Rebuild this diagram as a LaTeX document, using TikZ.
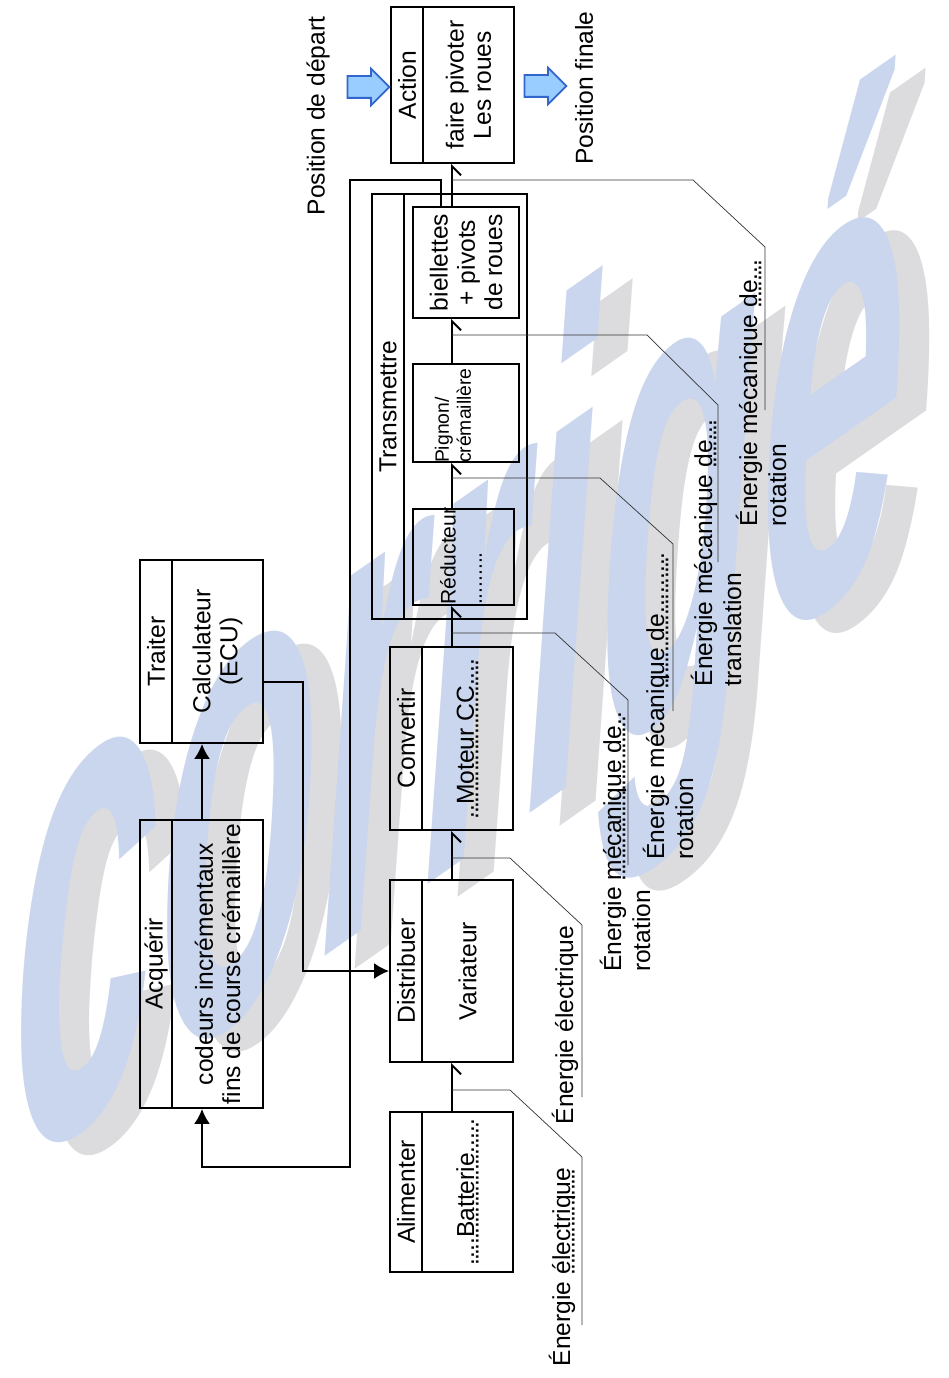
\documentclass[tikz,border=0pt]{standalone}
\usepackage{fontspec}
\setmainfont{Liberation Sans}
\usetikzlibrary{arrows.meta, shapes.arrows}

\definecolor{wmblue}{RGB}{201,214,237}
\definecolor{wmgray}{RGB}{220,220,222}
\definecolor{arrowblue}{RGB}{153,204,255}
\definecolor{arrowline}{RGB}{51,102,204}

% answer written on a dotted line
\newcommand{\fillin}[1]{\setbox0\hbox{#1}\rlap{\raisebox{-2.5pt}{\hbox to \wd0{\leaders\hbox to 3pt{\hss.\hss}\hfill}}}\box0}

\begin{document}
\begin{tikzpicture}[
    x=0.02cm, y=-0.02cm,
    font=\fontsize{14}{15.5}\selectfont,
    fnhead/.style={draw, line width=1.1pt, rotate=90, inner sep=0pt, minimum height=0.64cm},
    fnbody/.style={draw, line width=1.1pt, rotate=90, inner sep=0pt, minimum height=1.82cm, align=center},
    part/.style={draw, line width=1.1pt, rotate=90, inner sep=0pt, align=center},
    inlabel/.style={rotate=90, inner sep=1pt, align=left, font=\fontsize{11}{12.5}\selectfont},
    energy/.style={line width=1.1pt, -{Straight Barb[harpoon, swap, length=1.8mm, width=3.6mm]}},
    info/.style={line width=1.1pt, -{Latex[length=3mm, width=3.2mm]}},
    leader/.style={line width=0.4pt, black!80},
    note/.style={rotate=90, align=left, inner sep=0pt, font=\fontsize{14}{16.5}\selectfont},
    watermark/.style={font=\fontsize{150}{150}\selectfont\bfseries\itshape, yslant=0.7, xscale=1.0, yscale=2.6, inner sep=0pt},
    bigarrow/.style={single arrow, draw=arrowline, fill=arrowblue, line width=1pt, minimum height=0.84cm,
        inner ysep=0.2cm, inner xsep=0pt, single arrow head extend=0.15cm}
]
    \useasboundingbox (0,0) rectangle (948,1378);

    % watermark
    \node[watermark, text=wmgray] (shade) at (490,695) {corrigé};
    \node[watermark, text=wmblue] (mark) at (460,682) {corrigé};

    % chain of functions
    \node[fnhead, minimum width=3.12cm] (acthead) at (407,85) {Action};
    \node[fnbody, minimum width=3.12cm] (actbody) at (468.5,85) {faire pivoter\\Les roues};
    \node[fnhead, minimum width=8.5cm] (trahead) at (388,406.5) {Transmettre};
    \node[fnbody, minimum width=8.5cm, minimum height=2.46cm] (trabody) at (465.5,406.5) {};
    \node[part, minimum width=2.22cm, minimum height=2.12cm] (biel) at (466,262.5) {biellettes\\+ pivots\\de roues};
    \node[part, minimum width=1.96cm, minimum height=2.12cm] (pign) at (466,413) {};
    \node[part, minimum width=1.92cm, minimum height=2.02cm] (redu) at (463.5,557) {};
    \node[inlabel, anchor=west] (pigntext) at (453,465) {Pignon/\\crémaillère};
    \node[inlabel, anchor=west, font=\fontsize{12}{15}\selectfont] (redutext) at (461,607) {Réducteur\\.........};
    \node[fnhead, minimum width=3.66cm] (convhead) at (406,738.5) {Convertir};
    \node[fnbody, minimum width=3.66cm] (convbody) at (467.5,738.5) {\fillin{..Moteur CC....}};
    \node[fnhead, minimum width=3.64cm] (disthead) at (406,971) {Distribuer};
    \node[fnbody, minimum width=3.64cm] (distbody) at (467.5,971) {Variateur};
    \node[fnhead, minimum width=3.2cm] (alimhead) at (406,1192) {Alimenter};
    \node[fnbody, minimum width=3.2cm] (alimbody) at (467.5,1192) {\fillin{....Batterie.....}};
    \node[fnhead, minimum width=3.66cm] (traihead) at (156,651.5) {Traiter};
    \node[fnbody, minimum width=3.66cm] (traibody) at (217.5,651.5) {Calculateur\\(ECU)};
    \node[fnhead, minimum width=5.76cm] (acqhead) at (156,964) {Acquérir};
    \node[fnbody, minimum width=5.76cm] (acqbody) at (217.5,964) {codeurs incrémentaux\\fins de course crémaillère};

    % start and end positions
    \node[bigarrow] (startarrow) at (363,87) {};
    \node[bigarrow] (endarrow) at (540,86) {};
    \node[note] (startpos) at (318,116) {Position de départ};
    \node[note] (endpos) at (584,88) {Position finale};

    % energy labels
    \node[note] (ea) at (562,1267) {Énergie \fillin{électrique}};
    \node[note] (eb) at (565,1025) {Énergie électrique};
    \node[note] (ec) at (625,842) {Énergie \fillin{mécanique de..}\\rotation};
    \node[note] (ed) at (668,706) {Énergie mécani\fillin{que de.........}\\rotation};
    \node[note] (ee) at (716,553) {Énergie mécanique \fillin{de...}\\translation};
    \node[note] (ef) at (761,393) {Énergie mécanique \fillin{de...}\\rotation};

    \coordinate (chain) at (452,0);
    \coordinate (fbx) at (441,0);
    \coordinate (fbtop) at (350,180);
    \coordinate (fbbot) at (350,1167);
    \coordinate (sense) at (202,0);
    \coordinate (cmdx) at (303,682);

    % energy chain
    \draw[energy] (chain |- alimbody.east) -- (chain |- distbody.west);
    \draw[energy] (chain |- distbody.east) -- (chain |- convbody.west);
    \draw[energy] (chain |- convbody.east) -- (chain |- redu.west);
    \draw[energy] (chain |- redu.east) -- (chain |- pign.west);
    \draw[energy] (chain |- pign.east) -- (chain |- biel.west);
    \draw[energy] (chain |- biel.east) -- (chain |- actbody.west);

    % information chain
    \draw[info] (fbx |- biel.east) |- (fbtop) -- (fbbot) -| (sense |- acqbody.west);
    \draw[info] (sense |- acqbody.east) -- (sense |- traibody.west);
    \draw[info] (traibody.south |- cmdx) -- (cmdx) |- (disthead.north);

    % leaders
    \draw[leader] (452,1090) -- (510,1090) -- (582,1157) -- (582,1325);
    \draw[leader] (452,858) -- (510,858) -- (582,925) -- (582,1097);
    \draw[leader] (452,633) -- (555,633) -- (628,700) -- (628,865);
    \draw[leader] (452,478) -- (600,478) -- (673,544) -- (673,711);
    \draw[leader] (452,335) -- (647,335) -- (718,405) -- (718,562);
    \draw[leader] (452,180) -- (693,180) -- (765,247) -- (765,410);
\end{tikzpicture}
\end{document}
